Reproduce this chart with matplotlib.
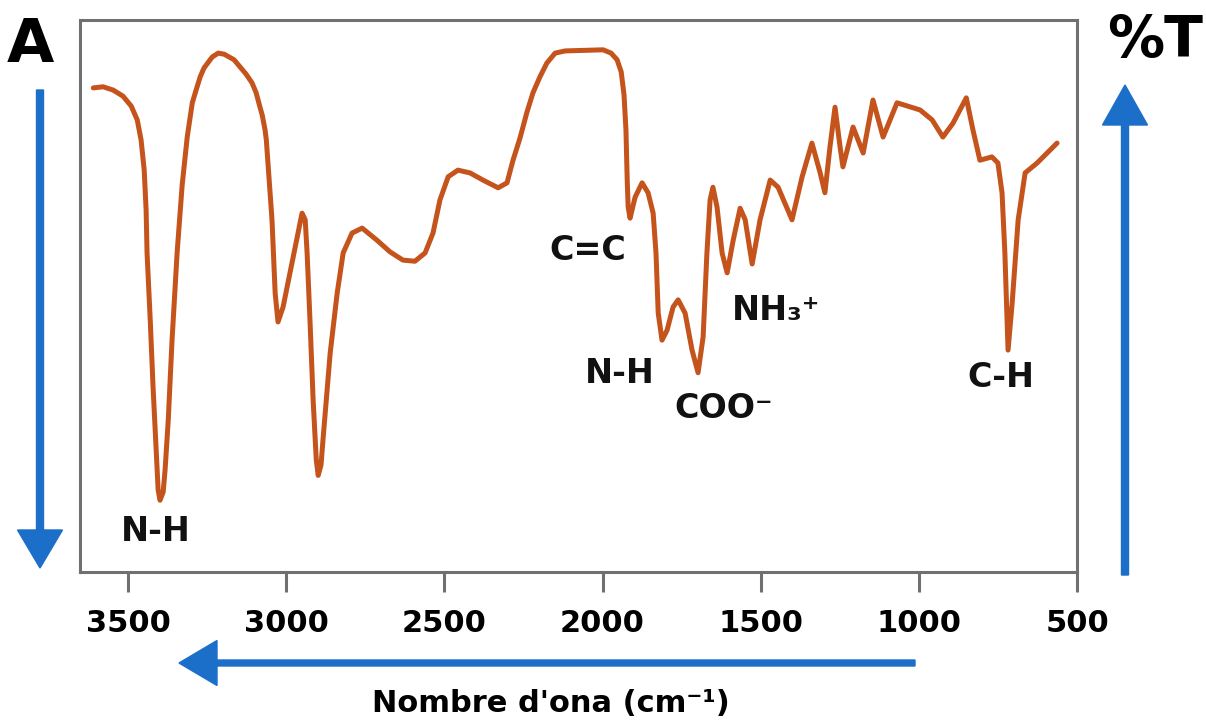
import matplotlib
matplotlib.use("Agg")
import matplotlib.pyplot as plt
from matplotlib.patches import FancyArrow

# IR spectrum (wavenumber in cm-1, transmittance in %)
wavenumber = [3610, 3579, 3547, 3516, 3490, 3471, 3459, 3449, 3443, 3440, 3430,
              3421, 3411, 3405, 3399, 3389, 3383, 3373, 3361, 3345, 3329, 3313,
              3297, 3285, 3272, 3260, 3234, 3215, 3196, 3165, 3146, 3127, 3108,
              3095, 3083, 3076, 3067, 3063, 3054, 3045, 3035, 3026, 3010, 2988,
              2978, 2950, 2940, 2934, 2925, 2915, 2905, 2899, 2890, 2883, 2861,
              2839, 2820, 2792, 2760, 2713, 2672, 2631, 2593, 2561, 2536, 2514,
              2488, 2457, 2419, 2378, 2330, 2302, 2283, 2261, 2239, 2220, 2198,
              2176, 2150, 2118, 1998, 1973, 1954, 1941, 1932, 1926, 1922, 1919,
              1913, 1897, 1875, 1856, 1840, 1831, 1824, 1812, 1796, 1777, 1761,
              1739, 1717, 1698, 1682, 1670, 1660, 1651, 1638, 1622, 1606, 1587,
              1565, 1549, 1527, 1502, 1470, 1445, 1401, 1369, 1338, 1312, 1297,
              1281, 1265, 1249, 1240, 1208, 1176, 1145, 1113, 1069, 996, 958,
              924, 892, 850, 829, 807, 769, 750, 737, 728, 721, 718, 705, 686,
              664, 626, 563]
transmittance = [87.7, 87.9, 87.3, 86.2, 84.4, 81.9, 78.3, 72.8, 65.6, 57.8, 45.7,
                 33.5, 22.1, 14.9, 13.0, 14.5, 18.5, 27.5, 42.0, 57.8, 70.1, 78.8,
                 85.0, 87.3, 89.7, 91.3, 93.3, 94.0, 93.8, 92.8, 91.5, 90.2, 88.6,
                 86.8, 84.2, 82.8, 80.1, 78.3, 71.0, 63.8, 50.5, 45.3, 48.0, 54.2,
                 57.0, 65.0, 63.8, 57.8, 45.7, 31.2, 20.3, 17.5, 19.4, 24.5, 39.7,
                 50.5, 57.8, 61.4, 62.3, 60.1, 58.0, 56.5, 56.3, 57.8, 61.4, 67.4,
                 71.6, 72.8, 72.3, 71.0, 69.6, 70.5, 74.6, 78.6, 83.3, 86.8, 89.7,
                 92.2, 94.0, 94.4, 94.6, 94.0, 92.8, 90.6, 86.4, 80.1, 71.0, 66.1,
                 64.1, 67.9, 70.5, 68.7, 65.0, 57.8, 46.9, 42.0, 43.8, 48.0, 49.3,
                 46.9, 40.2, 36.1, 42.6, 57.8, 67.4, 69.7, 66.1, 57.8, 54.2, 60.1,
                 65.9, 63.8, 55.8, 63.8, 71.0, 69.7, 63.8, 71.6, 77.7, 72.3, 68.7,
                 77.0, 84.2, 77.0, 73.4, 80.6, 75.9, 85.5, 78.8, 85.0, 83.7, 81.9,
                 78.8, 81.3, 85.9, 80.1, 74.6, 75.2, 74.1, 68.7, 57.8, 45.7, 40.2,
                 48.7, 63.8, 72.3, 74.1, 77.7]

tick_values = [3500, 3000, 2500, 2000, 1500, 1000, 500]
tick_labels = ["3500", "3000", "2500", "2000", "1500", "1000", "500"]

band_labels = ["N-H", "C=C", "N-H", "COO\u207b", "NH\u2083\u207a", "C-H"]
band_x = [3411, 2046, 1945, 1616, 1451, 740]
band_y = [7.4, 58.2, 35.9, 29.7, 47.3, 35.3]

W, H = 1206, 727
fig = plt.figure(figsize=(W / 100, H / 100), dpi=100)
fig.patch.set_facecolor("white")
ax = fig.add_axes([80 / W, 1 - 572 / H, (1077 - 80) / W, (572 - 20) / H])

line_color = "#C5531C"
frame_color = "#707070"
blue = "#1C6FC9"

ax.plot(wavenumber, transmittance, color=line_color, lw=3.6,
        solid_joinstyle="round", solid_capstyle="round")
ax.set_xlim(3652, 500)
ax.set_ylim(0, 100)
ax.set_yticks([])
ax.set_xticks(tick_values)
ax.set_xticklabels(tick_labels, fontsize=22, fontweight="bold")
ax.tick_params(axis="x", direction="out", length=14.4, width=2.2,
               color=frame_color, pad=12, labelcolor="black")
for s in ax.spines.values():
    s.set_color(frame_color)
    s.set_linewidth(2.2)

for lab, xv, yv in zip(band_labels, band_x, band_y):
    ax.text(xv, yv, lab, fontsize=24, fontweight="bold", ha="center",
            va="center", color="#111111")

# Axis annotations outside the plot
fig.text(30 / W, 1 - 45 / H, "A", fontsize=44, fontweight="bold",
         ha="center", va="center")
fig.text(1155 / W, 1 - 41 / H, "%T", fontsize=41, fontweight="bold",
         ha="center", va="center")
fig.text(551 / W, 1 - 703 / H, "Nombre d'ona (cm\u207b\u00b9)", fontsize=22,
         fontweight="bold", ha="center", va="center")

tr = fig.dpi_scale_trans
# left arrow (down)
fig.patches.append(FancyArrow(0.40, (H - 90) / 100, 0, -(568 - 90) / 100,
                              width=0.07, head_width=0.45, head_length=0.38,
                              length_includes_head=True, color=blue,
                              transform=tr, figure=fig))
# right arrow (up)
fig.patches.append(FancyArrow(11.25, (H - 575) / 100, 0, (575 - 85) / 100,
                              width=0.07, head_width=0.45, head_length=0.40,
                              length_includes_head=True, color=blue,
                              transform=tr, figure=fig))
# bottom arrow (left)
fig.patches.append(FancyArrow(9.15, (H - 663) / 100, -(915 - 179) / 100, 0,
                              width=0.06, head_width=0.45, head_length=0.38,
                              length_includes_head=True, color=blue,
                              transform=tr, figure=fig))

fig.savefig("out.png", dpi=100, facecolor="white")
